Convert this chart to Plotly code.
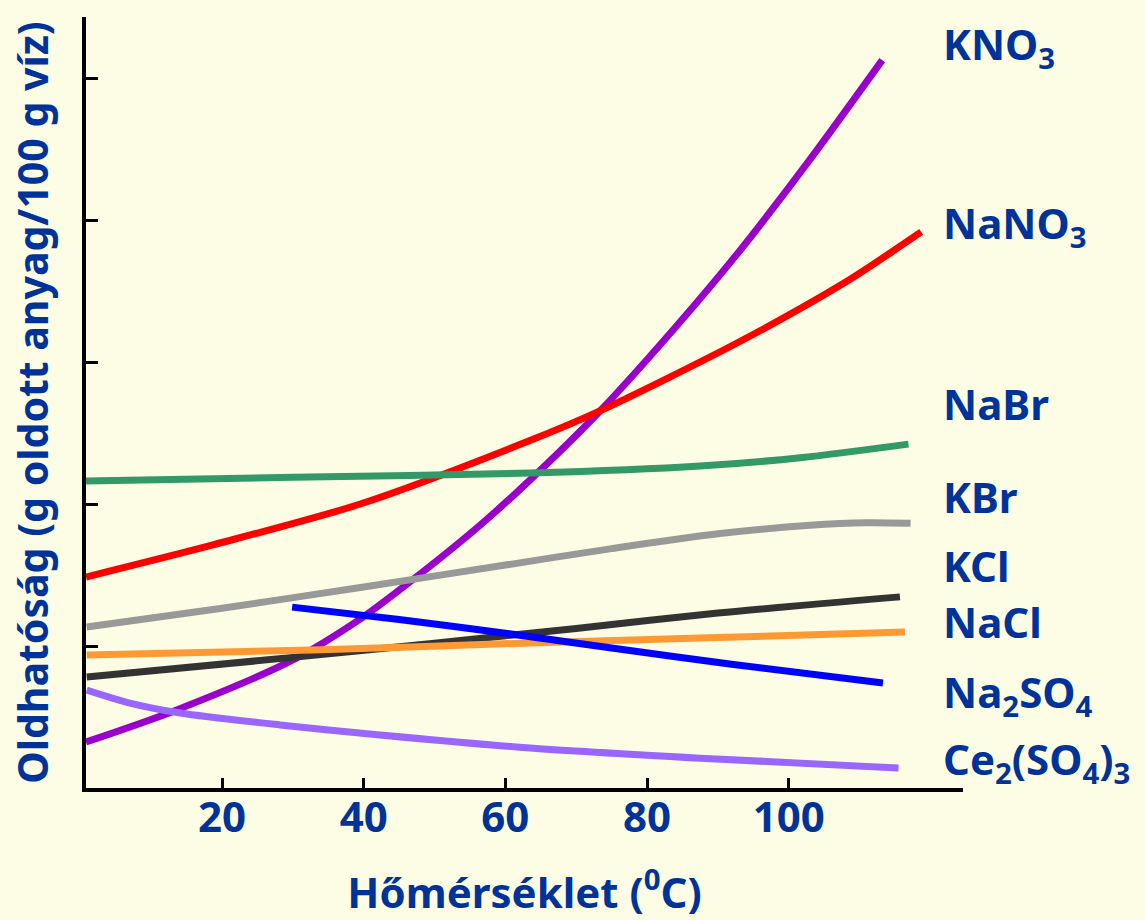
import plotly.graph_objects as go

# Temperature (°C) / solubility (g per 100 g water)
kno3_x = [0.8, 13.6, 30.0, 39.9, 47.0, 56.4, 63.5, 73.5, 84.1, 92.7, 102.9, 113.2]
kno3_y = [16.2, 27.5, 45.1, 60.2, 73.5, 92.5, 108.5, 133.1, 162.5, 188.0, 221.0, 256.3]

nano3_x = [0.8, 18.7, 39.5, 63.1, 73.5, 92.7, 107.8, 118.7]
nano3_y = [74.3, 85.6, 100.0, 122.0, 133.0, 156.7, 177.8, 195.8]

nabr_x = [0.8, 30.0, 63.5, 87.5, 101.6, 116.9]
nabr_y = [108.1, 109.4, 110.9, 113.4, 116.3, 121.1]

kbr_x = [0.9, 20.0, 40.0, 60.0, 75.0, 90.0, 103.0, 111.0, 117.2]
kbr_y = [56.7, 63.3, 70.8, 78.5, 84.3, 89.5, 92.5, 93.4, 93.2]

kcl_x = [0.9, 30.0, 50.0, 70.0, 90.0, 115.7]
kcl_y = [39.1, 46.0, 51.0, 56.2, 61.6, 67.3]

nacl_x = [0.9, 32.8, 63.5, 87.5, 116.4]
nacl_y = [46.8, 48.6, 51.1, 52.8, 54.9]

na2so4_x = [29.9, 45.0, 60.0, 75.0, 92.2, 113.3]
na2so4_y = [63.7, 59.3, 54.5, 49.3, 43.5, 37.0]

ce_x = [0.9, 7.0, 14.1, 28.2, 42.3, 63.5, 87.5, 115.5]
ce_y = [34.5, 29.9, 26.4, 22.2, 18.7, 14.1, 10.5, 7.0]

x_ticks = [20, 40, 60, 80, 100]
y_ticks = [50, 100, 150, 200, 250]

series = [
    ("KNO<sub>3</sub>", kno3_x, kno3_y, "#9900CC", 261.0),
    ("NaNO<sub>3</sub>", nano3_x, nano3_y, "#FF0000", 198.0),
    ("NaBr", nabr_x, nabr_y, "#339966", 135.5),
    ("KBr", kbr_x, kbr_y, "#999999", 102.8),
    ("KCl", kcl_x, kcl_y, "#333333", 78.5),
    ("NaCl", nacl_x, nacl_y, "#FF9933", 58.5),
    ("Na<sub>2</sub>SO<sub>4</sub>", na2so4_x, na2so4_y, "#0000FF", 33.0),
    ("Ce<sub>2</sub>(SO<sub>4</sub>)<sub>3</sub>", ce_x, ce_y, "#9966FF", 9.5),
]

BG = "#FDFDE6"
TXT = "#003399"
FONT = "Noto Sans"

fig = go.Figure()
for name, xs, ys, col, _ in series:
    fig.add_trace(go.Scatter(x=xs, y=ys, mode="lines", name=name,
                             line=dict(color=col, width=7, shape="spline", smoothing=0.8)))

for name, xs, ys, col, ly in series:
    fig.add_annotation(x=0.975, xref="paper", y=ly, yref="y", text=name,
                       showarrow=False, xanchor="left", yanchor="middle",
                       font=dict(family=FONT, size=42, color=TXT, weight="bold"))

fig.update_layout(
    width=1145, height=920,
    margin=dict(l=86, r=182, t=17, b=132),
    paper_bgcolor=BG, plot_bgcolor=BG,
    showlegend=False,
    xaxis=dict(range=[0.8, 124.6], tickvals=x_ticks, ticks="inside", ticklen=10,
               tickwidth=3, tickcolor="black", showline=True, linewidth=4,
               linecolor="black", showgrid=False, zeroline=False, automargin=False,
               ticklabelstandoff=-10,
               tickfont=dict(family=FONT, size=42, color=TXT, weight="bold"),
               title=dict(text="Hőmérséklet (<sup>0</sup>C)", standoff=37,
                          font=dict(family=FONT, size=42, color=TXT, weight="bold"))),
    yaxis=dict(range=[0, 271.5], tickvals=y_ticks, ticks="inside", ticklen=12,
               tickwidth=3, tickcolor="black", showline=True, linewidth=4,
               linecolor="black", showgrid=False, zeroline=False, automargin=False,
               showticklabels=False,
               title=dict(text="Oldhatóság (g oldott anyag/100 g víz)", standoff=22,
                          font=dict(family=FONT, size=41, color=TXT, weight="bold"))),
)

fig.write_html("out.html", config={"displayModeBar": False},
               post_script="document.body.style.margin='0';document.body.style.background='" + BG + "';")
